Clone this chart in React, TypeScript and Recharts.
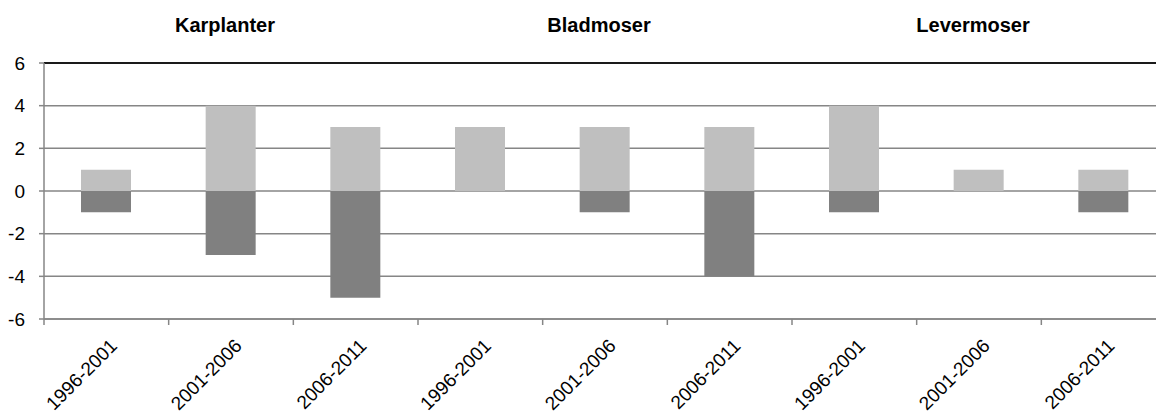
import React from "react";
import {
  BarChart,
  Bar,
  XAxis,
  YAxis,
  CartesianGrid,
} from "recharts";

// Antal arter som er kommet til (+) og forsvundet (-) per periode
const groups = ["Karplanter", "Bladmoser", "Levermoser"];
const periods = ["1996-2001", "2001-2006", "2006-2011"];
const gained = [1, 4, 3, 3, 3, 3, 4, 1, 1];
const lost = [-1, -3, -5, 0, -1, -4, -1, 0, -1];
const yTicks = [-6, -4, -2, 0, 2, 4, 6];

const COLORS = {
  gained: "#BFBFBF",
  lost: "#808080",
  grid: "#868686",
  top: "#1a1a1a",
};

const FONT = "'Liberation Sans', Arial, sans-serif";

const data = groups.flatMap((group, g) =>
  periods.map((period, p) => ({
    group,
    period,
    gained: gained[g * periods.length + p],
    lost: lost[g * periods.length + p],
  }))
);

const PeriodTick = (props: any) => {
  const { x, y, payload } = props;
  const left = x - (payload.offset ?? 0);
  const ax = x + 12;
  const ay = y + 28;
  return (
    <g>
      <line x1={left} y1={y} x2={left} y2={y + 6} stroke={COLORS.grid} strokeWidth={1.5} />
      <text
        x={ax}
        y={ay}
        transform={`rotate(-45, ${ax}, ${ay})`}
        textAnchor="end"
        fontSize={19}
        fontFamily={FONT}
        fill="#000"
      >
        {payload.value}
      </text>
    </g>
  );
};

const GroupTick = (props: any) => {
  const { x, y, payload, index } = props;
  if (index % periods.length !== 1) return null;
  return (
    <text
      x={x - 6}
      y={y - 31}
      textAnchor="middle"
      fontSize={20}
      fontWeight="bold"
      fontFamily={FONT}
      fill="#000"
    >
      {payload.value}
    </text>
  );
};

export default function App() {
  return (
    <div
      style={{
        position: "absolute",
        left: 0,
        top: 0,
        width: 1156,
        height: 419,
        overflow: "hidden",
        background: "#fff",
      }}
    >
      <BarChart
        width={1166}
        height={419}
        data={data}
        stackOffset="sign"
        margin={{ top: 0, right: 0, left: 0, bottom: 0 }}
        barSize={50}
      >
        <CartesianGrid vertical={false} stroke={COLORS.grid} strokeWidth={1.5} />
        <XAxis
          xAxisId="top"
          orientation="top"
          dataKey="group"
          height={63}
          tickLine={false}
          tickSize={0}
          tickMargin={0}
          axisLine={{ stroke: COLORS.top, strokeWidth: 2 }}
          tick={<GroupTick />}
          interval={0}
        />
        <XAxis
          xAxisId="bottom"
          dataKey="period"
          height={100}
          tickLine={false}
          tickSize={0}
          tickMargin={0}
          axisLine={{ stroke: COLORS.grid, strokeWidth: 1.5 }}
          tick={<PeriodTick />}
          interval={0}
        />
        <YAxis
          domain={[-6, 6]}
          ticks={yTicks}
          width={44}
          tickSize={5}
          tickMargin={14}
          axisLine={{ stroke: COLORS.grid, strokeWidth: 1.5 }}
          tickLine={{ stroke: COLORS.grid, strokeWidth: 1.5 }}
          tick={{ fontSize: 19, fontFamily: FONT, fill: "#000" }}
        />
        <Bar
          xAxisId="bottom"
          dataKey="gained"
          stackId="a"
          fill={COLORS.gained}
          isAnimationActive={false}
        />
        <Bar
          xAxisId="bottom"
          dataKey="lost"
          stackId="a"
          fill={COLORS.lost}
          isAnimationActive={false}
        />
      </BarChart>
    </div>
  );
}
